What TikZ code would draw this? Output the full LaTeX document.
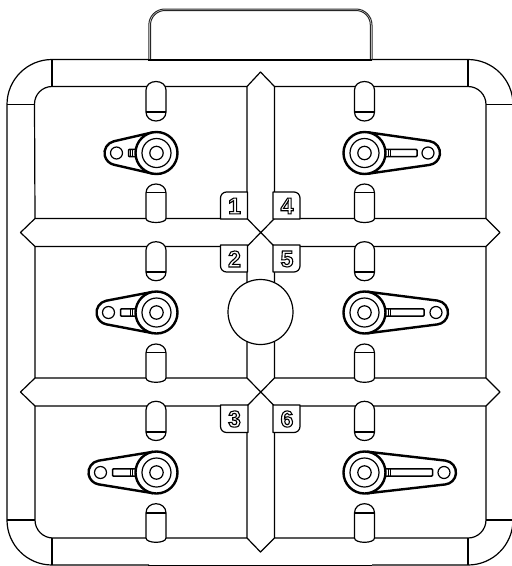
\documentclass[tikz,border=0pt]{standalone}
\usepackage{fontspec}
\setmainfont{Liberation Sans}
\tikzset{
  thin line/.style={draw=black,line width=1.2pt,line join=round},
  horn line/.style={draw=black,line width=2.4pt},
  digit/.style={inner sep=0pt,font=\bfseries\fontsize{23}{23}\selectfont,text=black}
}
\newcommand{\outlined}[1]{\special{pdf:code 1 Tr 1.1 w}#1\special{pdf:code 0 Tr 1 w}}
% #1 centre x, #2 top, #3 shoulder top, #4 shoulder bottom, #5 bottom, #6 chord y
\newcommand{\slotpath}[5]{({#1-10},#3) .. controls ({#1-10},{#3-0.6*(#3-#2)}) and ({#1-5.5},#2) .. (#1,#2)
     .. controls ({#1+5.5},#2) and ({#1+10},{#3-0.6*(#3-#2)}) .. ({#1+10},#3)
     -- ({#1+10},#4) .. controls ({#1+10},{#4+0.6*(#5-#4)}) and ({#1+5.5},#5) .. (#1,#5)
     .. controls ({#1-5.5},#5) and ({#1-10},{#4+0.6*(#5-#4)}) .. ({#1-10},#4) -- cycle}
\newcommand{\slotshape}[6]{%
  \draw[thin line,fill=white] \slotpath{#1}{#2}{#3}{#4}{#5};
  \draw[thin line] ({#1-10},#6) -- ({#1+10},#6);
}
\newcommand{\slotcolumn}[1]{%
  \slotshape{#1}{81.5}{90}{112}{121}{112}
  \slotshape{#1}{184}{193}{218.5}{222.5}{192.5}
  \slotshape{#1}{241.7}{250}{272}{280.7}{272}
  \slotshape{#1}{344}{353}{378}{382.3}{352.5}
  \slotshape{#1}{401.3}{410}{432}{440.5}{432}
  \slotshape{#1}{503.7}{513}{538}{542.3}{513}
}
% #1 hub x, #2 y, #3 dir, #4 hole distance, #5 slot end distance
\newcommand{\servo}[5]{%
  \begin{scope}[shift={(#1,#2)},xscale=#3]
    \pgfmathsetmacro{\tang}{acos(9/#4)}
    \pgfmathsetmacro{\hubx}{21*cos(\tang)}
    \pgfmathsetmacro{\huby}{21*sin(\tang)}
    \pgfmathsetmacro{\tipx}{#4+12*cos(\tang)}
    \pgfmathsetmacro{\tipy}{12*sin(\tang)}
    \draw[horn line,line join=round] (\hubx,-\huby) -- (\tipx,-\tipy)
       arc[start angle=-\tang,end angle=\tang,radius=12] -- (\hubx,\huby);
    \draw[thin line,line width=1.2pt] (#4,0) circle[radius=6];
    \draw[thin line,line width=1.5pt,rounded corners=0.8pt] (21,-3.6) -- (#5,-3.6) -- (#5,3.6) -- (21,3.6);
    \draw[thin line,line width=0.9pt] (24,-3.6) -- (24,3.6) (26,-3.6) -- (26,3.6);
    \draw[horn line,fill=white] (0,0) circle[radius=21];
    \draw[thin line] (0,0) circle[radius=14.5];
    \draw[thin line] (0,0) circle[radius=6.7];
  \end{scope}%
}
\newcommand{\tagbox}[4]{%
  \draw[thin line,fill=white] #3;
  \node[digit] (#1) at #2 {\outlined{#4}};
}
\begin{document}
\begin{tikzpicture}[x=1pt,y=-1pt]
\useasboundingbox (0,0) rectangle (512,566);
% outer frame
\draw[thin line] (149,59.5) -- (52,59.5) arc[start angle=-90,end angle=-180,radius=45] -- (7,520)
   arc[start angle=-180,end angle=-270,radius=45] -- (149,565);
\draw[thin line] (372,59.5) -- (468,59.5) arc[start angle=-90,end angle=0,radius=45] -- (513,520)
   arc[start angle=0,end angle=90,radius=45] -- (372,565);
\draw[thin line] (52,59.5) -- (52,86.5) (468,59.5) -- (468,86.5)
   (52,538) -- (52,565) (468,538) -- (468,565)
   (7,104.5) -- (35,104.5) (486,104.5) -- (513,104.5)
   (7,520) -- (35,520) (486,520) -- (513,520);
% tab
\draw[black!85,line width=1.0pt] (148.8,60) -- (148.8,25) arc[start angle=-180,end angle=-90,radius=16] -- (356,9)
   arc[start angle=-90,end angle=0,radius=16] -- (372,60);
\draw[black!85,line width=1.0pt] (150.5,60) -- (150.5,25) arc[start angle=-180,end angle=-90,radius=14.5] -- (356,10.5)
   arc[start angle=-90,end angle=0,radius=14.3] -- (370.3,60);
\draw[line width=1.3pt] (148,60) -- (372,60);
\draw[line width=1.5pt] (148,565.3) -- (372,565.3);
% panels and channels
\draw[thin line]
  (52,86.5) arc[start angle=-90,end angle=-180,radius=17.5] -- (35,218.5) -- (247,218.5) -- (247,86.5) -- cycle
  (247,86.5) -- (260.5,72) -- (274.5,86.5)
  (468,86.5) arc[start angle=-90,end angle=0,radius=18] -- (486,218.5) -- (274.5,218.5) -- (274.5,86.5) -- cycle
  (35,218.5) -- (20.5,232.5) -- (35,246.5)
  (486,218.5) -- (500,232.5) -- (486,246.5)
  (35,246.5) -- (35,378) (35,246.5) -- (247,246.5) -- (247,378) -- (35,378)
  (486,246.5) -- (486,378) -- (274.5,378) -- (274.5,246.5) -- (486,246.5)
  (35,378) -- (20.5,392) -- (35,406)
  (486,378) -- (500,392) -- (486,406)
  (35,406) -- (247,406) -- (247,538) -- (53,538) arc[start angle=90,end angle=180,radius=18] -- (35,406)
  (486,406) -- (274.5,406) -- (274.5,538) -- (468,538) arc[start angle=90,end angle=0,radius=18] -- (486,406)
  (247,538) -- (260.5,552) -- (274.5,538)
  (247,218.5) -- (274.5,246.5) (274.5,218.5) -- (247,246.5)
  (247,378) -- (274.5,406) (274.5,378) -- (247,406);
\slotcolumn{156}
\slotcolumn{364.5}
% centre disc
\draw[thin line,fill=white] (260.5,312) circle[radius=32.5];
% servo horns
\servo{156.5}{153}{-1}{40}{28}
\servo{364.5}{153}{1}{63.5}{52.5}
\servo{156.5}{312.5}{-1}{48}{36}
\servo{364.5}{312.5}{1}{71.5}{59.5}
\servo{156.5}{472.5}{-1}{56}{44}
\servo{364.5}{472.5}{1}{79.5}{68}
% number tags
\tagbox{t1}{(234.5,206)}{(247.5,219) -- (220.5,219) -- (220.5,198) arc[start angle=-180,end angle=-90,radius=6] -- (247.5,192) -- cycle}{1}
\tagbox{t2}{(234.5,259)}{(247.5,245) -- (220.5,245) -- (220.5,266) arc[start angle=-180,end angle=-270,radius=6] -- (247.5,272) -- cycle}{2}
\tagbox{t3}{(234.5,419)}{(248,405) -- (220.5,405) -- (220.5,426.5) arc[start angle=-180,end angle=-270,radius=6] -- (248,432.5) -- cycle}{3}
\tagbox{t4}{(287,206)}{(273,219) -- (300,219) -- (300,198) arc[start angle=0,end angle=-90,radius=6] -- (273,192) -- cycle}{4}
\tagbox{t5}{(287,259)}{(273,245) -- (300,245) -- (300,266) arc[start angle=0,end angle=90,radius=6] -- (273,272) -- cycle}{5}
\tagbox{t6}{(287,419)}{(273,405) -- (300,405) -- (300,426.5) arc[start angle=0,end angle=90,radius=6] -- (273,432.5) -- cycle}{6}
\end{tikzpicture}
\end{document}
